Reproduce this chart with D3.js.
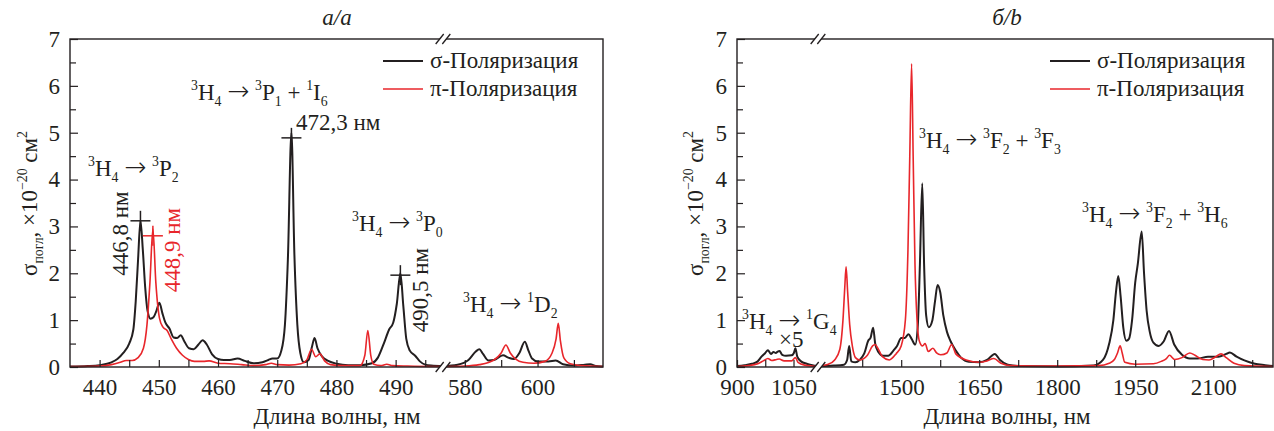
<!DOCTYPE html>
<html><head><meta charset="utf-8">
<script src="https://cdn.jsdelivr.net/npm/d3@7"></script>
<style>
body{margin:0;background:#fff}
svg text{font-family:"Liberation Serif","DejaVu Serif","Times New Roman",serif !important;fill:#231f20;white-space:pre}
svg tspan.arr{font-family:"DejaVu Sans",sans-serif;font-weight:200}
</style>
</head><body>
<svg id="c" width="1274" height="431"></svg>
<script>
// ---------- DATA ----------
// Panel a (visible region) segment 1 : 435–498 nm, segment 2 : 574–618 nm
const aSigma1 = [[435,0.01],[438,0.02],[440,0.04],[442,0.1],[443,0.17],[444,0.3],[445,0.5],[445.7,0.8],[446.1,1.4],[446.5,2.3],[446.9,3.12],[447.3,2.5],[447.7,1.7],[448.1,1.2],[448.6,1.03],[449.1,1.06],[449.6,1.2],[450.1,1.37],[450.6,1.15],[451.1,0.95],[451.8,0.82],[452.5,0.63],[453.1,0.62],[453.7,0.68],[454.3,0.55],[455.1,0.4],[455.9,0.38],[456.7,0.48],[457.4,0.57],[458.1,0.48],[459,0.27],[460,0.17],[461,0.15],[462,0.15],[463.3,0.18],[464.5,0.13],[466,0.08],[467.5,0.1],[468.5,0.15],[469.2,0.18],[470,0.18],[470.7,0.35],[471.3,0.9],[471.8,2.3],[472.4,5.0],[472.9,2.4],[473.4,0.9],[473.9,0.3],[474.5,0.1],[475.3,0.15],[475.9,0.45],[476.3,0.62],[476.8,0.4],[477.6,0.22],[478.6,0.13],[480,0.07],[482,0.04],[484,0.04],[486,0.08],[487,0.2],[488,0.5],[488.9,0.8],[489.6,0.95],[490.2,1.35],[490.8,2.0],[491.3,1.3],[491.8,0.6],[492.4,0.35],[493.3,0.24],[494.1,0.12],[495,0.05],[496,0.03],[498,0.02]];
const aPi1 = [[435,0.01],[440,0.02],[442,0.05],[443.5,0.1],[444.5,0.14],[445.5,0.14],[446.5,0.2],[447.4,0.4],[448,0.9],[448.5,1.8],[449.0,2.95],[449.5,1.8],[450.1,1.05],[450.7,0.85],[451.4,0.78],[452.1,0.6],[453,0.4],[454,0.25],[455,0.16],[456,0.12],[457.5,0.12],[458.5,0.13],[460,0.08],[462,0.07],[464,0.05],[466,0.03],[468,0.05],[469,0.08],[470,0.05],[472,0.04],[474,0.07],[475,0.15],[475.8,0.38],[476.5,0.22],[477.2,0.28],[478,0.13],[479,0.05],[481,0.03],[484,0.03],[484.8,0.25],[485.3,0.78],[485.8,0.25],[486.3,0.06],[487.5,0.03],[488.5,0.06],[489.5,0.03],[492,0.02],[498,0.01]];
const aSigma2 = [[574,0.02],[578,0.05],[581,0.15],[583,0.33],[584,0.38],[585,0.28],[586.5,0.14],[588,0.15],[590.5,0.25],[592,0.2],[593.5,0.17],[595,0.3],[596.5,0.54],[597.5,0.35],[598.5,0.18],[600,0.12],[603,0.12],[605,0.14],[607,0.06],[610,0.03],[613,0.05],[614.5,0.06],[616,0.02],[618,0.01]];
const aPi2 = [[574,0.01],[580,0.02],[584,0.05],[588,0.15],[590,0.3],[591.3,0.47],[592.5,0.3],[594,0.17],[596,0.1],[599,0.08],[602,0.12],[604,0.3],[605.1,0.6],[605.7,0.93],[606.3,0.55],[607.2,0.2],[609,0.07],[612,0.03],[618,0.01]];

// Panel b segment 1 : 900–1115 nm, segment 2 : 1340–2215 nm
const bSigma1 = [[900,0.02],[920,0.04],[940,0.07],[955,0.12],[965,0.22],[975,0.3],[982,0.36],[990,0.28],[997,0.32],[1003,0.3],[1008,0.33],[1013,0.34],[1020,0.26],[1030,0.24],[1045,0.25],[1051,0.3],[1055,0.4],[1060,0.22],[1070,0.12],[1085,0.07],[1100,0.04],[1115,0.02]];
const bPi1 = [[900,0.01],[930,0.03],[955,0.07],[970,0.13],[982,0.18],[992,0.14],[1005,0.16],[1012,0.17],[1025,0.13],[1045,0.13],[1055,0.2],[1062,0.1],[1080,0.04],[1115,0.01]];
const bSigma2 = [[1340,0.02],[1370,0.03],[1390,0.05],[1396,0.15],[1400,0.45],[1404,0.12],[1412,0.1],[1420,0.15],[1429,0.29],[1437,0.57],[1441,0.62],[1446,0.84],[1450,0.5],[1456,0.32],[1465,0.24],[1475,0.24],[1485,0.35],[1492,0.45],[1500,0.62],[1507,0.62],[1514,0.7],[1520,0.6],[1527,0.48],[1532,0.9],[1536,2.2],[1540.5,3.92],[1544,2.2],[1548,1.1],[1553,0.85],[1560,1.0],[1565,1.4],[1570,1.75],[1575,1.6],[1581,1.1],[1588,0.75],[1595,0.55],[1605,0.35],[1615,0.2],[1630,0.11],[1650,0.1],[1665,0.15],[1680,0.28],[1690,0.15],[1705,0.05],[1730,0.02],[1800,0.01],[1870,0.03],[1888,0.15],[1900,0.5],[1908,1.0],[1913,1.6],[1917.5,1.94],[1922,1.5],[1927,0.85],[1933,0.56],[1938,0.6],[1944,1.0],[1950,1.8],[1955,2.2],[1962.5,2.89],[1967,2.0],[1972,1.2],[1978,0.75],[1985,0.52],[1995,0.45],[2005,0.55],[2015,0.77],[2025,0.48],[2040,0.26],[2055,0.18],[2070,0.18],[2090,0.22],[2110,0.22],[2125,0.28],[2132,0.31],[2145,0.22],[2160,0.14],[2180,0.07],[2200,0.04],[2215,0.02]];
const bPi2 = [[1340,0.02],[1360,0.06],[1372,0.15],[1382,0.38],[1388,1.0],[1391.5,1.7],[1394,2.14],[1397,1.6],[1401,0.9],[1406,0.45],[1412,0.2],[1420,0.15],[1435,0.25],[1445,0.45],[1450,0.48],[1455,0.4],[1464,0.22],[1477,0.15],[1490,0.28],[1500,0.45],[1508,1.0],[1513,2.5],[1516.5,4.5],[1520,6.47],[1523,4.5],[1526.5,2.2],[1530,1.1],[1535,0.55],[1541,0.45],[1546,0.5],[1552,0.33],[1561,0.4],[1568,0.3],[1576,0.26],[1588,0.3],[1597,0.48],[1605,0.28],[1625,0.15],[1650,0.1],[1665,0.13],[1678,0.18],[1692,0.08],[1710,0.03],[1800,0.02],[1880,0.03],[1900,0.08],[1910,0.16],[1916,0.3],[1921,0.45],[1925,0.3],[1930,0.1],[1950,0.06],[1985,0.07],[2000,0.12],[2010,0.18],[2016,0.25],[2026,0.16],[2040,0.2],[2055,0.3],[2065,0.25],[2080,0.16],[2092,0.15],[2105,0.22],[2115,0.28],[2125,0.2],[2140,0.08],[2160,0.03],[2215,0.01]];

// peak markers (nm, value, series)
const aPeaks = [[446.9,3.12,"s"],[449.0,2.8,"p"],[472.4,4.89,"s"],[490.8,1.96,"s"]];

// ticks
const aMajor1=[440,450,460,470,480,490], aMinor1=[445,455,465,475,485,495];
const aMajor2=[580,600], aMinor2=[590,610];
const bMajor1=[900,1050], bMinor1=[975];
const bMajor2=[1500,1650,1800,1950,2100], bMinor2=[1425,1575,1725,1875,2025,2175];
const yMajor=[0,1,2,3,4,5,6,7], yMinor=[0.5,1.5,2.5,3.5,4.5,5.5,6.5];

const legendLabels=["σ-Поляризация","π-Поляризация"];
const titles=["а/a","б/b"];
const xTitle="Длина волны, нм";

// ---------- DRAW ----------
const svg=d3.select("#c");
const BLACK="#231f20", RED="#e8262b";
const FS=23;
const fmt=d3.format("d");
const yS=d3.scaleLinear().domain([0,7]).range([367,39]);

const panels=[
 {x0:70,x1:603,brk:443,
  segs:[{dom:[435,498],rng:[70,443],s:aSigma1,p:aPi1,maj:aMajor1,min:aMinor1},
        {dom:[574,618],rng:[443,603],s:aSigma2,p:aPi2,maj:aMajor2,min:aMinor2}],
  title:titles[0], tx:337, legX:383, ylx:37},
 {x0:737,x1:1273,brk:818,
  segs:[{dom:[900,1115],rng:[737,818],s:bSigma1,p:bPi1,maj:bMajor1,min:bMinor1},
        {dom:[1340,2215],rng:[818,1273],s:bSigma2,p:bPi2,maj:bMajor2,min:bMinor2}],
  title:titles[1], tx:1007, legX:1050, ylx:703}
];

function rich(t,parts,size){
  let cur=0;
  parts.forEach(p=>{
    const s=p[0],k=p[1];
    const off=k==="sup"?-0.42*size:(k==="sub"?0.27*size:0);
    const fsz=k==="sup"||k==="sub"?size*0.6:(k==="arr"?size*1.15:size);
    const ts=t.append("tspan").text(s).attr("dy",(off-cur).toFixed(2)).attr("font-size",fsz);
    if(k==="arr") ts.attr("class","arr");
    cur=off;
  });
  return t;
}
function cleanAxis(a){
  a.attr("font-family",null).attr("font-size",null);
  a.select(".domain").remove();
  a.selectAll("text").attr("font-size",FS).style("fill",BLACK);
  a.selectAll(".tick line").attr("stroke",BLACK).attr("stroke-width",1.2);
}

panels.forEach((P,pi)=>{
  const g=svg.append("g");
  P.segs.forEach(S=>{
    const xs=d3.scaleLinear().domain(S.dom).range(S.rng);
    S.xs=xs;
    const line=d3.line().x(d=>xs(d[0])).y(d=>yS(d[1])).curve(d3.curveMonotoneX);
    g.append("path").attr("d",line(S.s)).attr("fill","none").attr("stroke",BLACK).attr("stroke-width",2);
    g.append("path").attr("d",line(S.p)).attr("fill","none").attr("stroke",RED).attr("stroke-width",1.6);
    g.append("g").attr("transform","translate(0,367)")
      .call(d3.axisBottom(xs).tickValues(S.min).tickSize(-7).tickFormat("")).call(cleanAxis);
    g.append("g").attr("transform","translate(0,367)")
      .call(d3.axisBottom(xs).tickValues(S.maj).tickSize(-7).tickPadding(12).tickFormat(fmt)).call(cleanAxis);
  });
  g.append("g").attr("transform",`translate(${P.x0},0)`)
    .call(d3.axisLeft(yS).tickValues(yMinor).tickSize(-6).tickFormat("")).call(cleanAxis);
  g.append("g").attr("transform",`translate(${P.x0},0)`)
    .call(d3.axisLeft(yS).tickValues(yMajor).tickSize(-8).tickPadding(10).tickFormat(fmt)).call(cleanAxis);
  g.append("rect").attr("x",P.x0).attr("y",39).attr("width",P.x1-P.x0).attr("height",328)
    .attr("fill","none").attr("stroke",BLACK).attr("stroke-width",1.4);
  [39,367].forEach(by=>{
    const bx=P.brk,d=3.3;
    g.append("polygon").attr("points",`${bx-d-4},${by+5} ${bx-d+4},${by-5} ${bx+d+4},${by-5} ${bx+d-4},${by+5}`).attr("fill","#fff");
    [-d,d].forEach(o=>g.append("line").attr("x1",bx+o-4).attr("y1",by+5).attr("x2",bx+o+4).attr("y2",by-5)
      .attr("stroke",BLACK).attr("stroke-width",1.3));
  });
  g.append("text").attr("x",P.tx).attr("y",25).attr("text-anchor","middle").attr("font-size",FS).attr("font-style","italic").text(P.title);
  g.append("text").attr("x",P.tx).attr("y",424).attr("text-anchor","middle").attr("font-size",FS).text(xTitle);
  const yt=g.append("text").attr("transform",`translate(${P.ylx},203.5) rotate(-90)`).attr("text-anchor","middle");
  rich(yt,[["σ"],["погл","sub"],[", ×10"],["−20","sup"],[" см"],["2","sup"]],FS);
  [BLACK,RED].forEach((c,i)=>{
    const ly=61+i*28;
    g.append("line").attr("x1",P.legX).attr("x2",P.legX+40).attr("y1",ly).attr("y2",ly).attr("stroke",c).attr("stroke-width",c===RED?1.6:2);
    g.append("text").attr("x",P.legX+47).attr("y",ly+7).attr("font-size",FS).text(legendLabels[i]);
  });
});

const xa1=panels[0].segs[0].xs;
aPeaks.forEach(p=>{
  const cx=xa1(p[0]), cy=yS(p[1]), c=p[2]==="s"?BLACK:RED;
  svg.append("line").attr("x1",cx-10).attr("x2",cx+10).attr("y1",cy).attr("y2",cy).attr("stroke",c).attr("stroke-width",1.5);
  svg.append("line").attr("x1",cx).attr("x2",cx).attr("y1",cy-10).attr("y2",cy+10).attr("stroke",c).attr("stroke-width",1.5);
});

function ann(x,y,parts,color){
  const t=svg.append("text").attr("x",x).attr("y",y).style("fill",color||BLACK);
  rich(t,parts,FS);
}
const H4=[["3","sup"],["H"],["4","sub"],[" "],["→","arr"],[" "]];
ann(88,176,H4.concat([["3","sup"],["P"],["2","sub"]]));
ann(191,100,H4.concat([["3","sup"],["P"],["1","sub"],[" + "],["1","sup"],["I"],["6","sub"]]));
ann(352,231,H4.concat([["3","sup"],["P"],["0","sub"]]));
ann(463,312,H4.concat([["1","sup"],["D"],["2","sub"]]));
ann(742,329,H4.concat([["1","sup"],["G"],["4","sub"]]));
svg.append("text").attr("x",779).attr("y",347).attr("font-size",FS).text("×5");
ann(919,148,H4.concat([["3","sup"],["F"],["2","sub"],[" + "],["3","sup"],["F"],["3","sub"]]));
ann(1082,222,H4.concat([["3","sup"],["F"],["2","sub"],[" + "],["3","sup"],["H"],["6","sub"]]));

svg.append("text").attr("x",296).attr("y",130).attr("font-size",FS).text("472,3 нм");
[["446,8 нм",128,233.5,BLACK],["448,9 нм",180,250,RED],["490,5 нм",428,290,BLACK]].forEach(r=>{
  svg.append("text").attr("transform",`translate(${r[1]},${r[2]}) rotate(-90)`).attr("text-anchor","middle")
    .attr("font-size",FS).style("fill",r[3]).text(r[0]);
});
</script>
</body></html>
